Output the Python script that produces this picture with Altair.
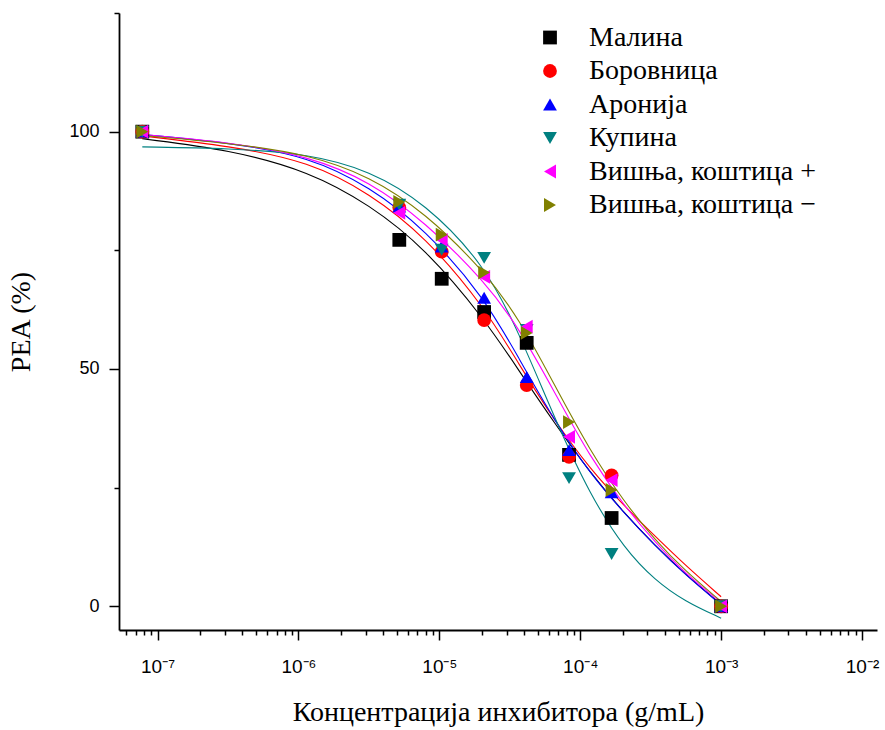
import altair as alt
import pandas as pd

# ---------------- data ----------------
series = ["Малина", "Боровница", "Аронија", "Купина",
          "Вишња, коштица +", "Вишња, коштица −"]
colors = ["#000000", "#ff0000", "#0000ff", "#008080", "#ff00ff", "#808000"]
shapes = ["square", "circle", "triangle-up", "triangle-down",
          "triangle-left", "triangle-right"]

# measured points: concentration (g/mL) and PEA (%)
conc = [7.8e-8, 5.2e-6, 1.04e-5, 2.08e-5, 4.17e-5, 8.33e-5, 1.67e-4, 1.0e-3]
pea_malina = [100, 77.2, 69.0, 62.0, 55.5, 31.9, 18.6, 0]
pea_borovnica = [100, 84.0, 74.7, 60.3, 46.6, 31.5, 27.6, 0]
pea_aronija = [100, 84.2, 75.8, 65.0, 48.3, 32.9, 24.0, 0]
pea_kupina = [100, 84.6, 75.1, 73.4, 58.2, 27.0, 11.0, 0]
pea_visnja_plus = [100, 82.9, 77.2, 69.4, 58.9, 35.7, 26.6, 0]
pea_visnja_minus = [100, 85.2, 78.3, 70.3, 57.6, 38.8, 24.5, 0]

# fitted curves
fit_conc = [7.8e-8, 3.25e-7, 1.2e-6, 3.2e-6, 7.9e-6, 2.1e-5, 3.7e-5,
            6.6e-5, 1.17e-4, 2.07e-4, 3.39e-4, 5.53e-4, 1.0e-3]
fit_malina = [98.5, 96.2, 91.6, 84.6, 75.5, 60.5, 49.5, 38.5, 28.2, 19.5, 12.8, 6.8, 0.4]
fit_borovnica = [99.1, 97.0, 93.7, 87.0, 78.0, 63.0, 50.8, 39.0, 29.0, 21.0, 14.8, 8.7, 2.0]
fit_aronija = [99.4, 97.7, 94.7, 88.4, 79.5, 65.0, 52.0, 39.0, 28.0, 19.5, 12.8, 6.7, 0.3]
fit_kupina = [96.8, 96.5, 95.3, 91.8, 85.0, 72.0, 57.5, 39.5, 23.5, 12.0, 5.5, 1.0, -2.5]
fit_visnja_plus = [99.4, 97.8, 94.8, 89.5, 81.0, 68.5, 58.5, 45.0, 31.5, 21.0, 13.5, 7.0, 0.8]
fit_visnja_minus = [99.2, 97.6, 95.2, 90.6, 83.0, 70.5, 60.5, 46.5, 32.8, 21.8, 14.0, 7.5, 1.0]

major_x = [1e-7, 1e-6, 1e-5, 1e-4, 1e-3, 1e-2]
major_x_labels = ["10⁻⁷", "10⁻⁶", "10⁻⁵", "10⁻⁴", "10⁻³", "10⁻²"]
minor_x = [m * 10.0 ** e for e in range(-8, -2) for m in range(2, 10)
           if 5.4e-8 < m * 10.0 ** e < 1.27e-2]
major_y = [0, 50, 100]
minor_y = [25, 75, 125]

# ---------------- tables ----------------
pts_vals = [pea_malina, pea_borovnica, pea_aronija, pea_kupina,
            pea_visnja_plus, pea_visnja_minus]
fit_vals = [fit_malina, fit_borovnica, fit_aronija, fit_kupina,
            fit_visnja_plus, fit_visnja_minus]

pts = pd.DataFrame([
    {"s": s, "order": i, "x": x, "y": y}
    for i, (s, ys) in enumerate(zip(series, pts_vals))
    for x, y in zip(conc, ys)
])

label_expr = " : ".join(
    f"datum.value < {v * 3:.1e} ? '{lab}'" for v, lab in zip(major_x[:-1], major_x_labels[:-1])
) + f" : '{major_x_labels[-1]}'"

x_scale = alt.Scale(type="log", domain=[5.33e-8, 1.277e-2], nice=False)
y_scale = alt.Scale(domain=[-5, 125], nice=False, zero=False)

sans = "Liberation Sans"
serif = "Liberation Serif"

x_major = alt.Axis(values=major_x, labelExpr=label_expr, tickSize=10, tickWidth=1.5,
                   tickColor="black", domainColor="black", domainWidth=1.8,
                   labelFont=sans, labelFontSize=19, labelColor="black", labelPadding=17,
                   title="Концентрација инхибитора (g/mL)", titleFont=serif,
                   titleFontSize=28, titleFontWeight="normal", titleColor="black",
                   titlePadding=22, grid=False, orient="bottom", labelFlush=False)
y_major = alt.Axis(values=major_y, tickSize=10, tickWidth=1.5, tickColor="black",
                   domainColor="black", domainWidth=1.8, labelFont=sans,
                   labelFontSize=18, labelColor="black", labelPadding=10,
                   title="PEA (%)", titleFont=serif, titleFontSize=28,
                   titleFontWeight="normal", titleColor="black", titlePadding=33,
                   grid=False, orient="left")
x_minor = alt.Axis(values=minor_x, labels=False, domain=False, tickSize=5,
                   tickWidth=1.5, tickColor="black", title=None, grid=False,
                   orient="bottom")
y_minor = alt.Axis(values=minor_y, labels=False, domain=False, tickSize=5,
                   tickWidth=1.5, tickColor="black", title=None, grid=False,
                   orient="left")

layers = []
for i, (s, c, ys) in enumerate(zip(series, colors, fit_vals)):
    df = pd.DataFrame({"x": fit_conc, "y": ys})
    layers.append(
        alt.Chart(df).mark_line(interpolate="basis", strokeWidth=1.1, color=c).encode(
            x=alt.X("x:Q", scale=x_scale, axis=x_major if i == 0 else None),
            y=alt.Y("y:Q", scale=y_scale, axis=y_major if i == 0 else None),
            order=alt.Order("x:Q"),
        )
    )

points = alt.Chart(pts).mark_point(filled=True, size=190, opacity=1).encode(
    x=alt.X("x:Q", scale=x_scale, axis=x_minor),
    y=alt.Y("y:Q", scale=y_scale, axis=y_minor),
    color=alt.Color("s:N", scale=alt.Scale(domain=series, range=colors),
                    legend=alt.Legend(title=None, orient="none", legendX=417, legendY=10.5)),
    shape=alt.Shape("s:N", scale=alt.Scale(domain=series, range=shapes),
                    legend=alt.Legend(title=None, orient="none", legendX=417, legendY=10.5)),
    order=alt.Order("order:Q"),
)
layers.append(points)

chart = alt.layer(*layers).resolve_axis(x="independent", y="independent").properties(
    width=758, height=617,
    autosize=alt.AutoSizeParams(type="none"),
    padding={"left": 119, "top": 13, "right": 8, "bottom": 100},
    background="white",
).configure_view(stroke=None).configure_legend(
    labelFont=serif, labelFontSize=28, labelColor="black", labelOffset=25,
    symbolSize=190, symbolStrokeWidth=0, rowPadding=5.5, padding=0,
    labelLimit=500,
)

chart.save("out.html", embed_options={"renderer": "svg", "actions": False})
